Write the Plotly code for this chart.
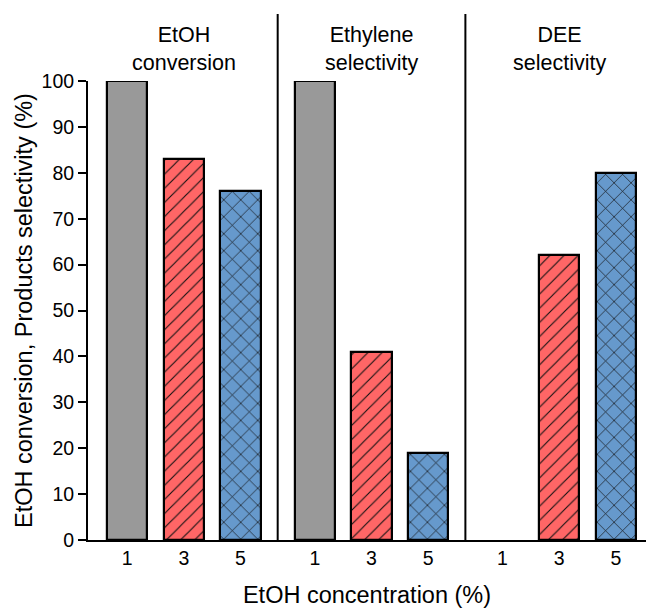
import plotly.graph_objects as go

# Panels (one per measured quantity) and the EtOH feed concentrations (%)
groups = ["EtOH<br>conversion", "Ethylene<br>selectivity", "DEE<br>selectivity"]
concentrations = ["1", "3", "5"]

# Values (%) for each concentration, listed panel by panel
values_1 = [100, 100, None]
values_3 = [83, 41, 62]
values_5 = [76, 19, 80]
series = [values_1, values_3, values_5]

fill_colors = ["#999999", "#FF6666", "#6699CC"]
hatch_shapes = ["", "/", "x"]
hatch_sizes = [8, 10, 12]

FONT = "Liberation Sans, Arial, sans-serif"
GAP = 1.31  # extra spacing between panels, in bar slots
n = len(concentrations)


def slot(g, i):
    return g * (n - 1 + GAP) + i


fig = go.Figure()
for i, conc in enumerate(concentrations):
    xs = [slot(g, i) for g in range(len(groups))]
    fig.add_trace(go.Bar(
        x=xs,
        y=series[i],
        name=conc,
        width=0.71,
        cliponaxis=False,
        marker=dict(
            color=fill_colors[i],
            line=dict(color="black", width=2.2),
            pattern=dict(shape=hatch_shapes[i], size=hatch_sizes[i],
                         solidity=0.11, fgcolor="#111111",
                         bgcolor=fill_colors[i], fillmode="replace"),
        ),
        showlegend=False,
    ))

# Vertical dividers between panels
for g in range(1, len(groups)):
    xd = slot(g, 0) - GAP / 2
    fig.add_shape(type="line", xref="x", yref="paper", x0=xd, x1=xd,
                  y0=0, y1=1.146, line=dict(color="black", width=2))

# Panel headings
for g, label in enumerate(groups):
    fig.add_annotation(x=slot(g, 1), xref="x", y=1.07, yref="paper",
                       text=label, showarrow=False, yanchor="middle",
                       font=dict(family=FONT, size=21.5, color="black"))

tickvals = [slot(g, i) for g in range(len(groups)) for i in range(n)]
ticktext = [c for _ in groups for c in concentrations]

fig.update_layout(
    width=646, height=608,
    margin=dict(l=88, r=0, t=81, b=68),
    plot_bgcolor="white", paper_bgcolor="white",
    font=dict(family=FONT, size=19.5, color="black"),
    bargap=0,
    xaxis=dict(
        range=[-0.69, slot(2, 2) + 0.53],
        tickvals=tickvals, ticktext=ticktext,
        showline=True, linecolor="black", linewidth=2,
        ticks="outside", ticklen=0, tickcolor="rgba(0,0,0,0)",
        showgrid=False, zeroline=False,
        title=dict(text="EtOH concentration (%)",
                   font=dict(family=FONT, size=23.5), standoff=19),
    ),
    yaxis=dict(
        range=[0, 100], tickvals=list(range(0, 101, 10)),
        showline=True, linecolor="black", linewidth=2,
        ticks="outside", ticklen=8, tickwidth=2, tickcolor="black",
        showgrid=False, zeroline=False,
        title=dict(text="EtOH conversion, Products selectivity (%)",
                   font=dict(family=FONT, size=23.5), standoff=2),
    ),
)

fig.write_html("out.html")
